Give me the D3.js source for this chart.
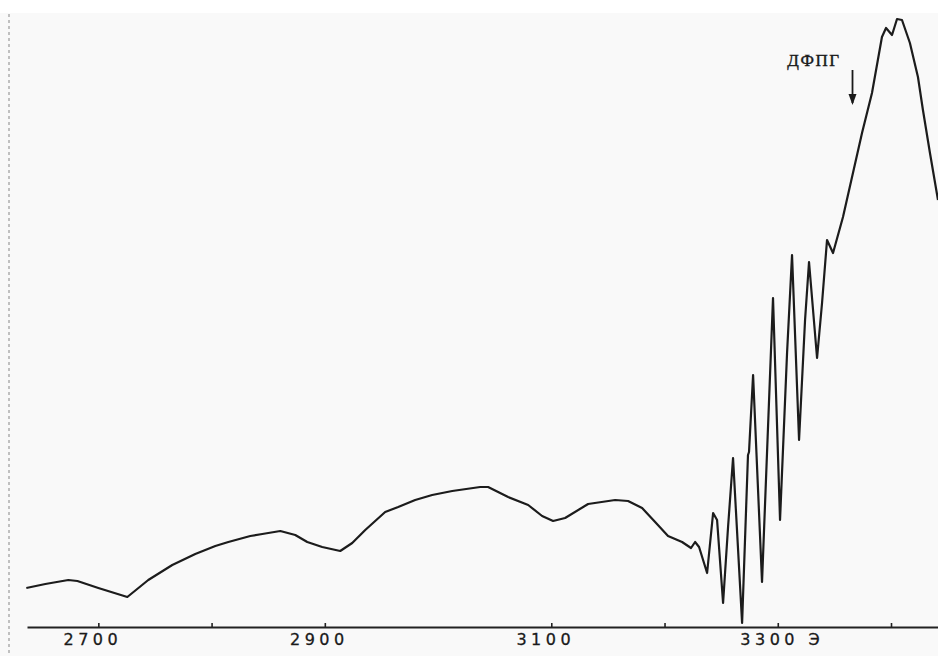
<!DOCTYPE html>
<html>
<head>
<meta charset="utf-8">
<script src="https://cdn.jsdelivr.net/npm/d3@7"></script>
<style>
  html, body { margin: 0; padding: 0; background: #ffffff; }
  svg { display: block; }
</style>
</head>
<body>
<svg id="chart" width="938" height="656"></svg>
<script>
// Magnetic field, G
const fieldG = [2636.4, 2653.2, 2673.5, 2681.5, 2700.0, 2725.6, 2744.1, 2765.3, 2785.6, 2803.3,
  2814.8, 2834.2, 2844.8, 2860.7, 2873.9, 2884.5, 2897.7, 2913.6, 2924.2, 2935.7,
  2953.3, 2964.8, 2979.8, 2994.8, 3012.5, 3037.2, 3044.2, 3061.9, 3079.6, 3091.9,
  3101.6, 3112.2, 3132.5, 3156.4, 3167.8, 3180.2, 3191.7, 3203.1, 3215.5, 3223.4,
  3227.0, 3230.5, 3237.6, 3242.9, 3246.4, 3251.7, 3256.1, 3260.5, 3268.5, 3273.7,
  3274.6, 3278.2, 3286.1, 3290.5, 3295.8, 3302.0, 3308.2, 3312.6, 3318.8, 3324.1,
  3327.6, 3334.7, 3339.1, 3343.5, 3348.8, 3357.6, 3374.4, 3383.2, 3392.0, 3395.6,
  3400.9, 3405.3, 3409.7, 3416.7, 3423.8, 3428.2, 3434.4, 3441.5];
// EPR signal, arbitrary units
const signal = [37, 41, 45, 44, 37, 28, 45, 60, 71, 79,
  83, 89, 91, 94, 90, 83, 78, 74, 82, 95,
  113, 118, 125, 130, 134, 138, 138, 128, 120, 109,
  104, 107, 121, 125, 124, 117, 103, 89, 83, 77,
  83, 78, 52, 112, 105, 22, 98, 167, 2, 170,
  173, 250, 43, 172, 327, 105, 272, 370, 185, 305,
  363, 267, 322, 385, 372, 408, 492, 532, 588, 597,
  590, 606, 605, 582, 548, 515, 472, 425];

const tickValues = [2700, 2800, 2900, 3100, 3200, 3300, 3400];
const tickLabels = {2700: "2700", 2900: "2900", 3100: "3100", 3300: "3300 Э"};
const markerLabel = "ДФПГ";
const markerField = 3366;

const svg = d3.select("#chart");
const W = 938, H = 656;

// paper background
svg.append("rect").attr("x", 0).attr("y", 0).attr("width", W).attr("height", H).attr("fill", "#ffffff");
svg.append("rect").attr("x", 0).attr("y", 13).attr("width", W).attr("height", H - 13).attr("fill", "#f9f9f9");
// scan edge on the left
svg.append("line").attr("x1", 9).attr("x2", 9).attr("y1", 14).attr("y2", H)
  .attr("stroke", "#9a9a9a").attr("stroke-width", 1.2).attr("stroke-dasharray", "3,3");

const x = d3.scaleLinear().domain([2637, 3441.5]).range([27, 938]);
const y = d3.scaleLinear().domain([0, 605]).range([625, 20]);

// axis
const axis = d3.axisBottom(x)
  .tickValues(tickValues)
  .tickSizeInner(-4)
  .tickSizeOuter(0)
  .tickFormat(d => tickLabels[d] || "");

const gAxis = svg.append("g").attr("transform", "translate(0,627)").call(axis);
gAxis.select(".domain").attr("stroke", "#222").attr("stroke-width", 2.2);
gAxis.selectAll(".tick line").attr("stroke", "#222").attr("stroke-width", 1.6);
gAxis.selectAll(".tick text")
  .attr("fill", "#1a1a1a")
  .attr("font-family", "DejaVu Sans, sans-serif")
  .attr("font-size", 16)
  .attr("letter-spacing", "4.5px")
  .attr("stroke", "#1a1a1a")
  .attr("stroke-width", 0.3)
  .attr("y", 7)
  .attr("dx", -6)
  .each(function(d) {
    if (d === 3300) d3.select(this).attr("text-anchor", "start").attr("dx", -38);
  });

// spectrum line
const line = d3.line()
  .x((d, i) => x(fieldG[i]))
  .y((d, i) => y(signal[i]))
  .curve(d3.curveLinear);

svg.append("path")
  .datum(signal)
  .attr("d", line)
  .attr("fill", "none")
  .attr("stroke", "#1c1c1c")
  .attr("stroke-width", 2.2)
  .attr("stroke-linejoin", "round");

// DPPH marker
const mx = x(markerField);
svg.append("text")
  .attr("x", mx - 12).attr("y", 66)
  .attr("text-anchor", "end")
  .attr("font-family", "Liberation Serif, DejaVu Serif, serif")
  .attr("font-size", 17)
  .attr("letter-spacing", "1.5px")
  .attr("fill", "#1a1a1a")
  .attr("stroke", "#1a1a1a")
  .attr("stroke-width", 0.4)
  .text(markerLabel);
svg.append("line").attr("x1", mx).attr("x2", mx).attr("y1", 70).attr("y2", 103)
  .attr("stroke", "#1a1a1a").attr("stroke-width", 1.8);
svg.append("path")
  .attr("d", `M${mx - 4},${94} L${mx},${105} L${mx + 4},${94} Z`)
  .attr("fill", "#1a1a1a");
</script>
</body>
</html>
